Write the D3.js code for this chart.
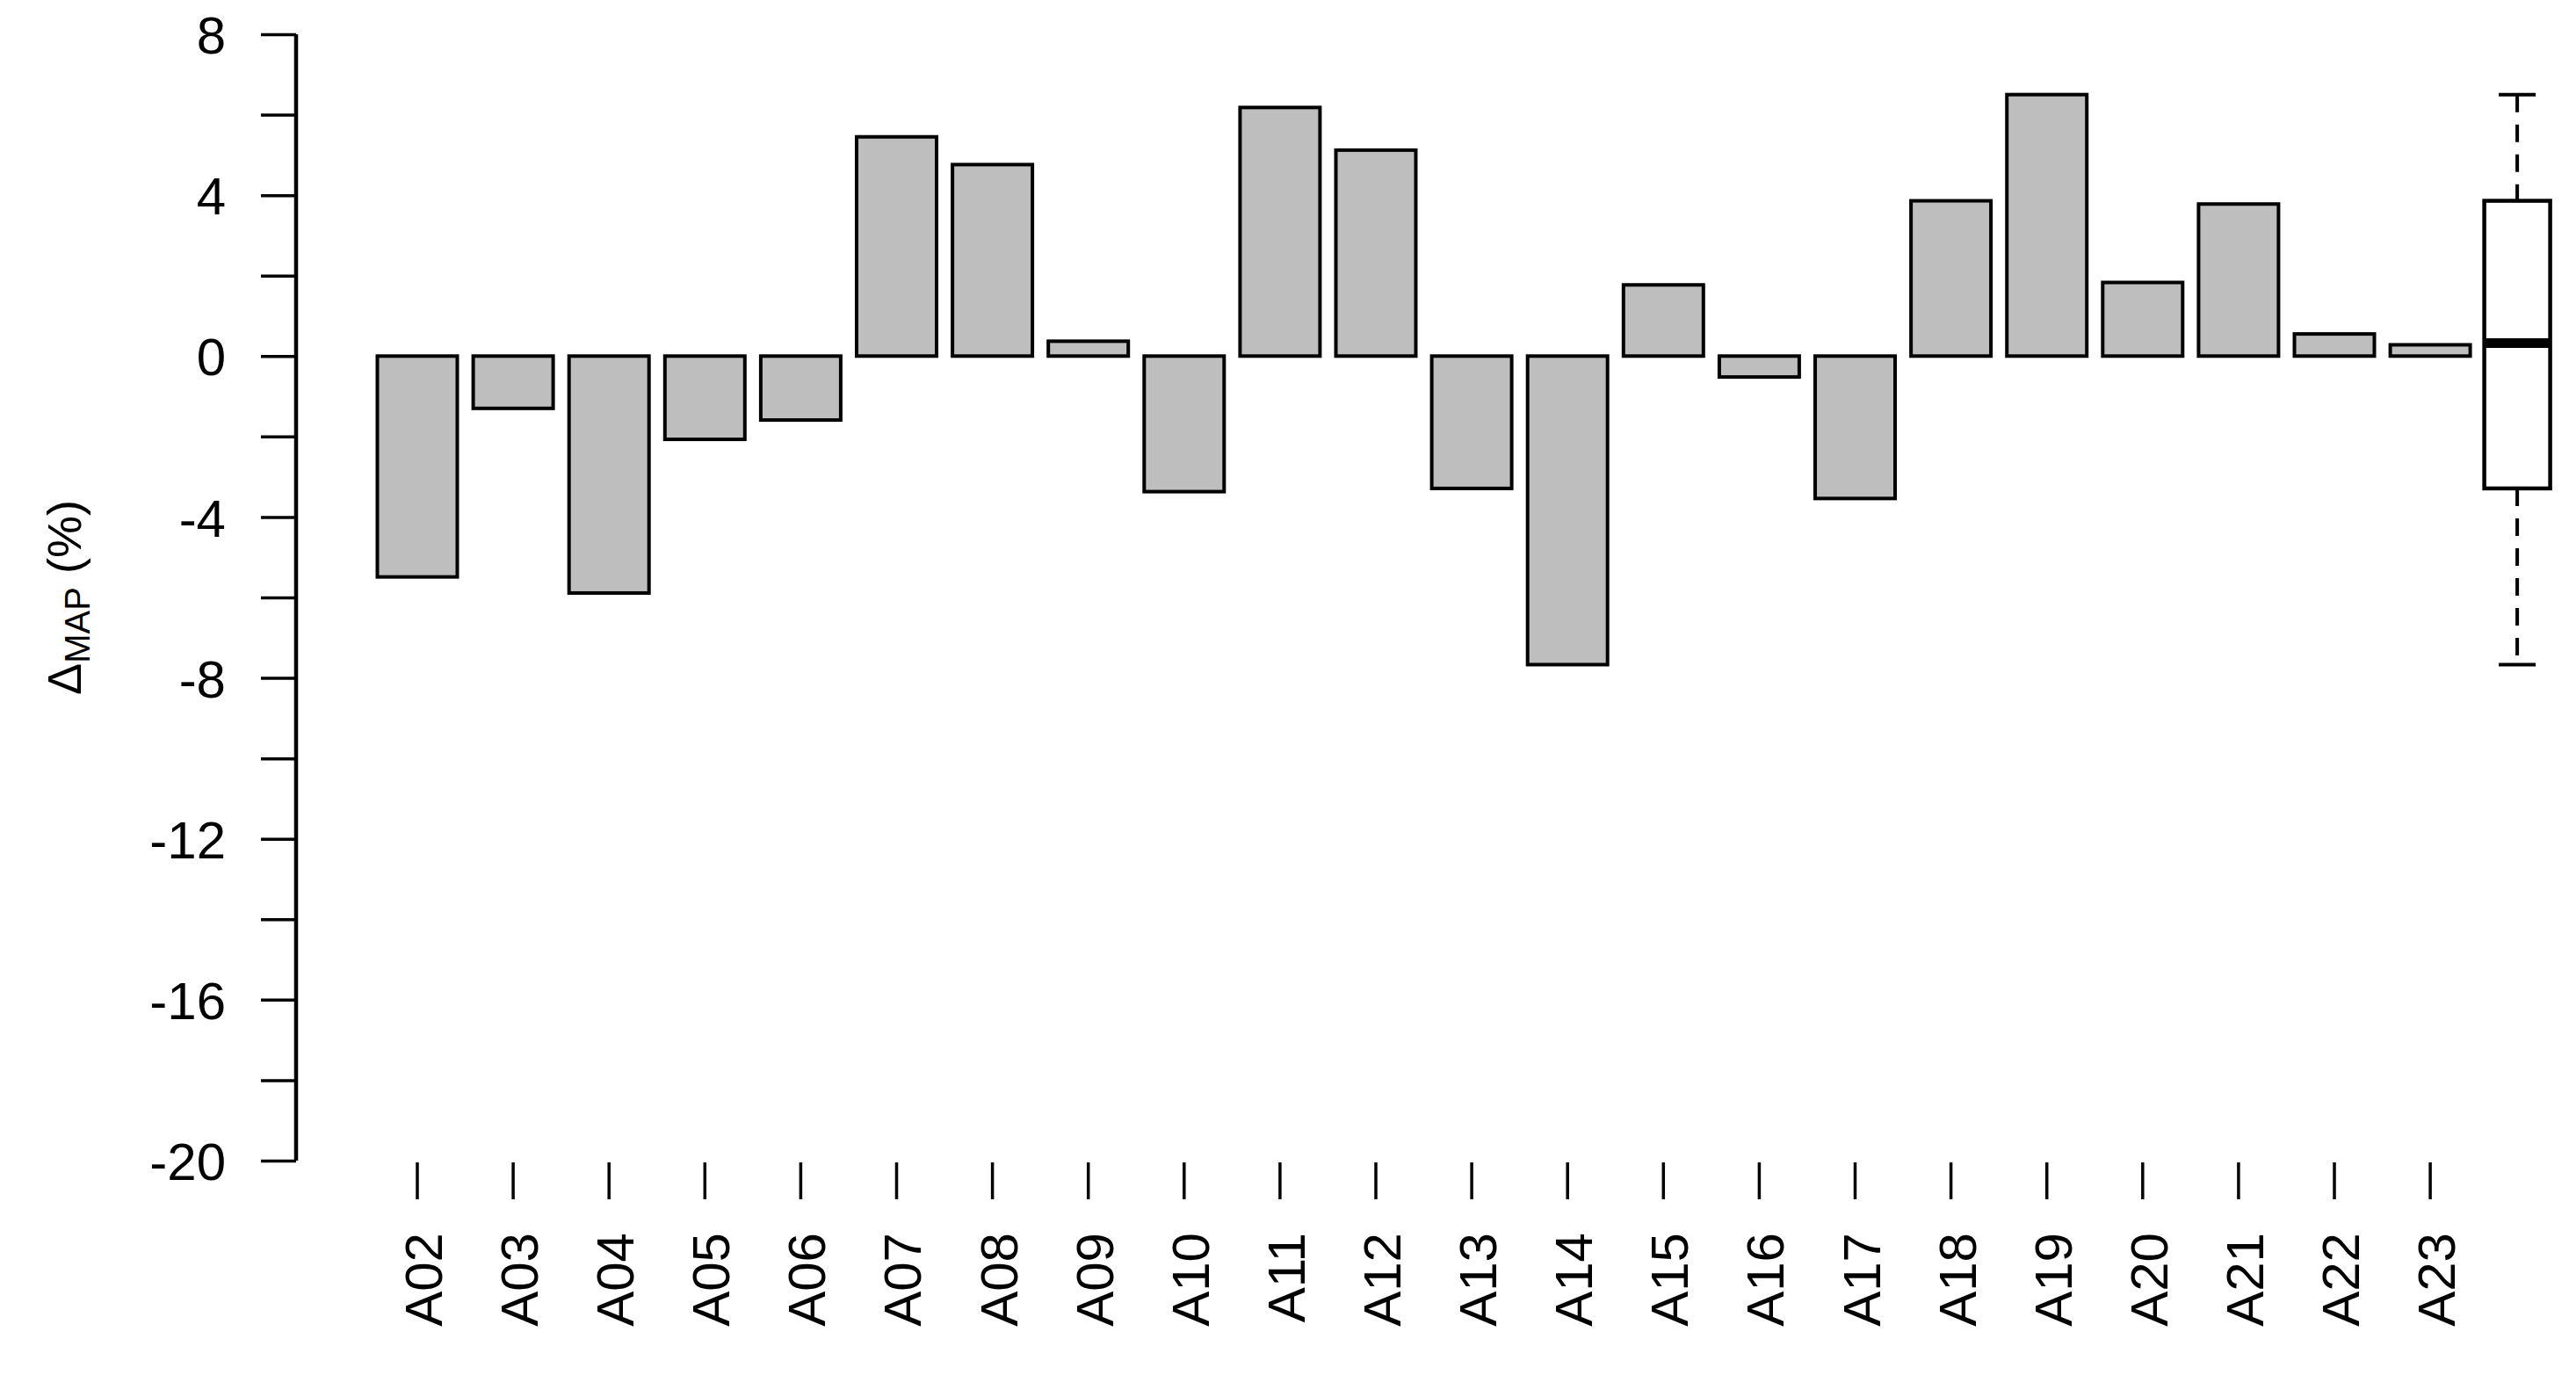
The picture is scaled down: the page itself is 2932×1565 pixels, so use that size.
<!DOCTYPE html>
<html>
<head>
<meta charset="utf-8">
<script src="https://cdn.jsdelivr.net/npm/d3@7"></script>
<style>
  html, body { margin: 0; padding: 0; background: #ffffff; }
  svg { display: block; }
  text { font-family: "Liberation Sans", Arial, sans-serif; fill: #000; }
</style>
</head>
<body>
<svg id="chart" width="2932" height="1565"></svg>
<script>
// ---- data ----
const categories = ["A02","A03","A04","A05","A06","A07","A08","A09","A10","A11","A12",
                    "A13","A14","A15","A16","A17","A18","A19","A20","A21","A22","A23"];
const values = [-5.49, -1.30, -5.89, -2.07, -1.59, 5.45, 4.76, 0.37, -3.37, 6.18, 5.12,
                -3.29, -7.67, 1.77, -0.52, -3.54, 3.86, 6.50, 1.83, 3.78, 0.55, 0.28];
const yTickValues = [8, 6, 4, 2, 0, -2, -4, -6, -8, -10, -12, -14, -16, -18, -20];
const yTickLabels = [8, 4, 0, -4, -8, -12, -16, -20];
const yDomain = [-20, 8];

// ---- layout ----
const W = 2932, H = 1565;
const svg = d3.select("#chart");
svg.append("rect").attr("width", W).attr("height", H).attr("fill", "#fff");

const axisX = 337;
const y = d3.scaleLinear().domain(yDomain).range([1321, 39]);
const x = d3.scaleBand().domain(categories).range([429.5, 2811.6]).paddingInner(0.166).paddingOuter(0);

// ---- bars ----
const data = categories.map((c, i) => ({ c, v: values[i] }));
svg.append("g").selectAll("rect").data(data).join("rect")
  .attr("x", d => x(d.c))
  .attr("width", x.bandwidth())
  .attr("y", d => y(Math.max(0, d.v)))
  .attr("height", d => Math.abs(y(d.v) - y(0)))
  .attr("fill", "#bebebe")
  .attr("stroke", "#000")
  .attr("stroke-width", 4);

// ---- y axis ----
const yAxis = d3.axisLeft(y).tickValues(yTickValues).tickSize(40).tickSizeOuter(0)
  .tickFormat(d => yTickLabels.includes(d) ? String(d).replace("-", "-") : "");
const gy = svg.append("g").attr("transform", `translate(${axisX},0)`).call(yAxis);
gy.select(".domain").attr("stroke", "#000").attr("stroke-width", 4.5)
  .attr("d", `M0,${y(8)}V${y(-20)}`);
gy.selectAll(".tick line").attr("stroke", "#000").attr("stroke-width", 3.5);
gy.selectAll(".tick text")
  .attr("x", -80).attr("dy", "0.36em")
  .style("font-family", '"Liberation Sans", Arial, sans-serif')
  .style("font-size", "60px").attr("fill", "#000");

// ---- x axis (ticks only, no line) ----
const tickTop = 1323, tickBottom = 1365;
const gx = svg.append("g");
gx.selectAll("line").data(categories).join("line")
  .attr("x1", d => x(d) + x.bandwidth() / 2)
  .attr("x2", d => x(d) + x.bandwidth() / 2)
  .attr("y1", tickTop).attr("y2", tickBottom)
  .attr("stroke", "#000").attr("stroke-width", 3.5);
gx.selectAll("text").data(categories).join("text")
  .attr("transform", d => `translate(${x(d) + x.bandwidth() / 2 + 28},1403) rotate(-90)`)
  .attr("text-anchor", "end")
  .style("font-size", "60px")
  .text(d => d);

// ---- boxplot of the values ----
const sorted = values.slice().sort(d3.ascending);
function med(a) { return d3.median(a); }
const n = sorted.length;
const half = Math.floor((n + 1) / 2);
const lowHalf = sorted.slice(0, half), highHalf = sorted.slice(n - half);
const stats = {
  min: sorted[0], q1: med(lowHalf), median: med(sorted), q3: med(highHalf), max: sorted[n - 1]
};
const boxCenter = x(categories[categories.length - 1]) + x.bandwidth() / 2 + 99;
const boxW = 75, capW = 42;
const gb = svg.append("g");
gb.append("line").attr("x1", boxCenter).attr("x2", boxCenter)
  .attr("y1", y(stats.max)).attr("y2", y(stats.q3))
  .attr("stroke", "#000").attr("stroke-width", 4).attr("stroke-dasharray", "20,14");
gb.append("line").attr("x1", boxCenter).attr("x2", boxCenter)
  .attr("y1", y(stats.q1)).attr("y2", y(stats.min))
  .attr("stroke", "#000").attr("stroke-width", 4).attr("stroke-dasharray", "20,14");
gb.append("line").attr("x1", boxCenter - capW / 2).attr("x2", boxCenter + capW / 2)
  .attr("y1", y(stats.max)).attr("y2", y(stats.max)).attr("stroke", "#000").attr("stroke-width", 4);
gb.append("line").attr("x1", boxCenter - capW / 2).attr("x2", boxCenter + capW / 2)
  .attr("y1", y(stats.min)).attr("y2", y(stats.min)).attr("stroke", "#000").attr("stroke-width", 4);
gb.append("rect").attr("x", boxCenter - boxW / 2).attr("width", boxW)
  .attr("y", y(stats.q3)).attr("height", y(stats.q1) - y(stats.q3))
  .attr("fill", "#fff").attr("stroke", "#000").attr("stroke-width", 4.5);
gb.append("line").attr("x1", boxCenter - boxW / 2).attr("x2", boxCenter + boxW / 2)
  .attr("y1", y(stats.median)).attr("y2", y(stats.median))
  .attr("stroke", "#000").attr("stroke-width", 11);

// ---- y label ----
const yl = svg.append("text")
  .attr("transform", "translate(92,680) rotate(-90)")
  .attr("text-anchor", "middle")
  .style("font-size", "54px");
yl.append("tspan").text("\u0394");
yl.append("tspan").attr("dy", 10).style("font-size", "40px").text("MAP");
yl.append("tspan").attr("dy", -10).text(" (%)");
</script>
</body>
</html>
